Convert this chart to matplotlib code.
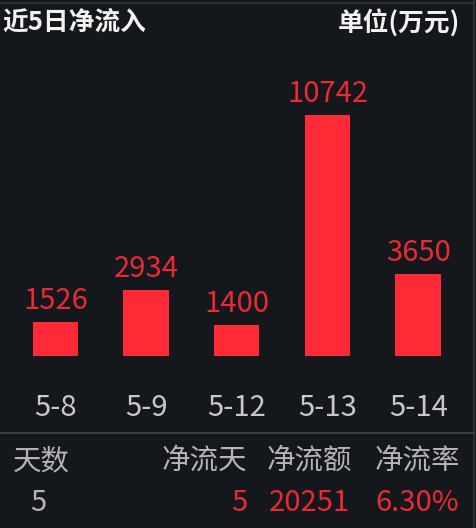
import matplotlib
matplotlib.use("Agg")
import matplotlib.pyplot as plt
from matplotlib.lines import Line2D

dates = ["5-8", "5-9", "5-12", "5-13", "5-14"]
inflow = [1526, 2934, 1400, 10742, 3650]
title = "近5日净流入"
unit = "单位(万元)"
stat_headers = ["天数", "净流天", "净流额", "净流率"]
stat_values = ["5", "5", "20251", "6.30%"]

W, H = 477, 528
DPI = 100
BG = "#14171c"
BAR = "#fe2a35"
LABEL_RED = "#ea2a33"
GREY = "#b4b4b4"
FONT = ["Noto Sans CJK SC", "DejaVu Sans"]
plt.rcParams["font.family"] = FONT

fig = plt.figure(figsize=(W / DPI, H / DPI), dpi=DPI, facecolor=BG)

def fx(px):
    return px / W

def fy(py):
    return 1 - py / H

# bar axes: x from 10 to 463.5 px, y from 60 to 356 px
ax_left, ax_right, ax_top, ax_bottom = 10, 463.5, 60, 356
ax = fig.add_axes([fx(ax_left), fy(ax_bottom), fx(ax_right - ax_left), (ax_bottom - ax_top) / H])
ax.set_facecolor(BG)
x = range(len(dates))
ax.bar(x, inflow, width=0.5, color=BAR, edgecolor="none")
ax.set_xlim(-0.5, len(dates) - 0.5)
ax.set_ylim(0, 13194)
ax.axis("off")
for i, v in zip(x, inflow):
    ax.annotate(str(v), (i, v), xytext=(0, 9.4), textcoords="offset points",
                ha="center", va="baseline", color=LABEL_RED, fontsize=21)
for i, d in zip(x, dates):
    ax.annotate(d, (i, 0), xytext=(0, -(408 - 356) / 1.389), textcoords="offset points",
                ha="center", va="center", color="#c8c8c8", fontsize=21)

# title row
fig.text(fx(2), fy(23), title, color="#f2f2f2", fontsize=18.5, fontweight="bold",
         ha="left", va="center")
fig.text(fx(460), fy(23), unit, color="#f2f2f2", fontsize=18.5, fontweight="bold",
         ha="right", va="center")

# border lines
fig.add_artist(Line2D([0, fx(474)], [fy(3), fy(3)], color="#2c2f35", lw=1.5))
fig.add_artist(Line2D([fx(474.5), fx(474.5)], [0, 1], color="#2c2f35", lw=1.5))
fig.add_artist(Line2D([0, fx(474)], [fy(433), fy(433)], color="#3a3d42", lw=1.5))

# stats rows
fig.text(fx(13), fy(461), stat_headers[0], color=GREY, fontsize=20.5, ha="left", va="center")
fig.text(fx(38.5), fy(503), stat_values[0], color=GREY, fontsize=21, ha="center", va="center")
rights_h = [247, 352, 460]
rights_v = [247, 350, 459]
for h, v, rh, rv in zip(stat_headers[1:], stat_values[1:], rights_h, rights_v):
    fig.text(fx(rh), fy(461), h, color=GREY, fontsize=20.5, ha="right", va="center")
    fig.text(fx(rv), fy(503), v, color=LABEL_RED, fontsize=21, ha="right", va="center")

fig.savefig("out.png", dpi=DPI, facecolor=BG)
